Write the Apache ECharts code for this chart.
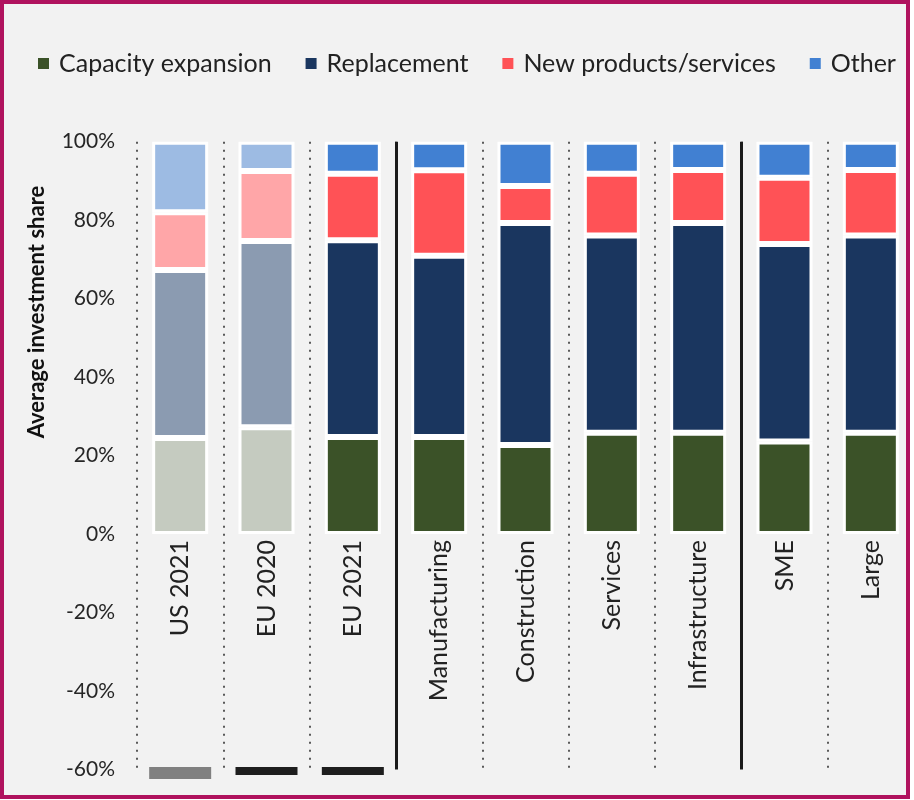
<!DOCTYPE html>
<html lang="en">
<head>
    <meta charset="utf-8">
    <title>Average investment share</title>
    <script src="https://cdn.jsdelivr.net/npm/echarts@6/dist/echarts.min.js"></script>
    <style>
        body { margin: 0; background: #fff; }
        .frame {
            position: absolute; left: 0; top: 0;
            width: 910px; height: 799px;
            box-sizing: border-box;
            border: 4px solid #b0125e;
            background: #f2f2f2;
        }
        #main { position: absolute; left: 0; top: 0; width: 906px; height: 800px; }
    </style>
</head>
<body>
<div class="frame"></div>
<div id="main"></div>
<script type="text/javascript">
    // values (percent)
    var categories = ['US 2021', 'EU 2020', 'EU 2021', 'Manufacturing', 'Construction', 'Services', 'Infrastructure', 'SME', 'Large'];
    var capacity = [24.5, 27.2, 24.7, 24.7, 22.7, 25.8, 25.8, 23.6, 25.8];
    var replacement = [42.8, 47.5, 50.2, 46.2, 56.6, 50.3, 53.5, 50.3, 50.3];
    var newProducts = [14.7, 17.8, 16.9, 21.8, 9.4, 15.7, 13.5, 16.9, 16.7];
    var other = [18.0, 7.5, 8.2, 7.3, 11.3, 8.2, 7.2, 9.2, 7.2];
    var seriesNames = ['Capacity expansion', 'Replacement', 'New products/services', 'Other'];
    // little bars under the first three columns
    var markerValues = [-60.9, -60.4, -60.4];
    // group separators (boundaries between columns)
    var separators = [3, 7];
    var yTicks = { min: -60, max: 100, step: 20 };

    var mainColors = ['#3b5228', '#1a365f', '#ff5256', '#4180d2'];
    var fadedColors = ['#c5cbc0', '#8b9bb1', '#ffa6a8', '#9dbbe3'];
    var fadedCount = 2;
    var font = 'Lato';

    // grid geometry
    var gridTop = 141.7, gridBottom = 30.6, chartH = 800;
    var plotH = chartH - gridTop - gridBottom;
    // category labels hang just under the 0% line
    var zeroFromBottom = plotH * (0 - yTicks.min) / (yTicks.max - yTicks.min);

    function buildBar(name, values, idx) {
        return {
            name: name,
            type: 'bar',
            stack: 'total',
            barWidth: 56,
            itemStyle: { color: mainColors[idx], borderColor: '#fff', borderWidth: 3 },
            data: values.map(function (v, i) {
                if (i < fadedCount) {
                    return { value: v, itemStyle: { color: fadedColors[idx] } };
                }
                return v;
            })
        };
    }

    var myChart = echarts.init(document.getElementById('main'));
    var option = {
        animation: false,
        textStyle: { fontFamily: font },
        legend: {
            data: seriesNames,
            top: 46,
            left: 33,
            icon: 'rect',
            itemWidth: 11,
            itemHeight: 11,
            itemGap: 34,
            itemStyle: { borderWidth: 0 },
            textStyle: { fontSize: 25, color: '#222', fontFamily: font, padding: [0, 0, 0, 5] }
        },
        grid: {
            left: 137, right: -8, top: gridTop, bottom: gridBottom,
            containLabel: false,
            outerBoundsMode: 'none'
        },
        graphic: [{
            type: 'text',
            x: 37,
            y: 312,
            rotation: Math.PI / 2,
            style: {
                text: 'Average investment share',
                font: 'bold 22px ' + font,
                fill: '#111',
                align: 'center',
                verticalAlign: 'middle'
            }
        }],
        xAxis: [{
            type: 'category',
            data: categories,
            axisLine: { show: false, onZero: false },
            axisTick: { show: false },
            axisLabel: { rotate: 90, fontSize: 25, color: '#222', margin: -(zeroFromBottom - 6), fontFamily: font },
            splitLine: { show: true, lineStyle: { color: '#5a5a5a', width: 2, type: [2, 6] } }
        }, {
            type: 'value',
            min: 0,
            max: categories.length,
            show: false
        }],
        yAxis: {
            type: 'value',
            min: yTicks.min,
            max: yTicks.max,
            interval: yTicks.step,
            axisLine: { show: false },
            axisTick: { show: false },
            splitLine: { show: false },
            axisLabel: { formatter: '{value}%', fontSize: 21, color: '#262626', margin: 22, fontFamily: font }
        },
        series: [
            buildBar(seriesNames[0], capacity, 0),
            buildBar(seriesNames[1], replacement, 1),
            buildBar(seriesNames[2], newProducts, 2),
            buildBar(seriesNames[3], other, 3),
            {
                name: 'markers',
                type: 'scatter',
                clip: false,
                symbol: 'rect',
                silent: true,
                data: markerValues.map(function (v, i) {
                    return {
                        value: [categories[i], v],
                        symbolSize: i === 0 ? [62, 12] : [62, 8],
                        itemStyle: { color: i === 0 ? '#808080' : '#1e1e1e', opacity: 1 }
                    };
                })
            },
            {
                name: 'separators',
                type: 'line',
                xAxisIndex: 1,
                data: [],
                silent: true,
                markLine: {
                    symbol: 'none',
                    silent: true,
                    label: { show: false },
                    lineStyle: { color: '#1a1a1a', width: 3, type: 'solid' },
                    data: separators.map(function (s) { return { xAxis: s }; })
                }
            }
        ]
    };
    myChart.setOption(option);
</script>
</body>
</html>
